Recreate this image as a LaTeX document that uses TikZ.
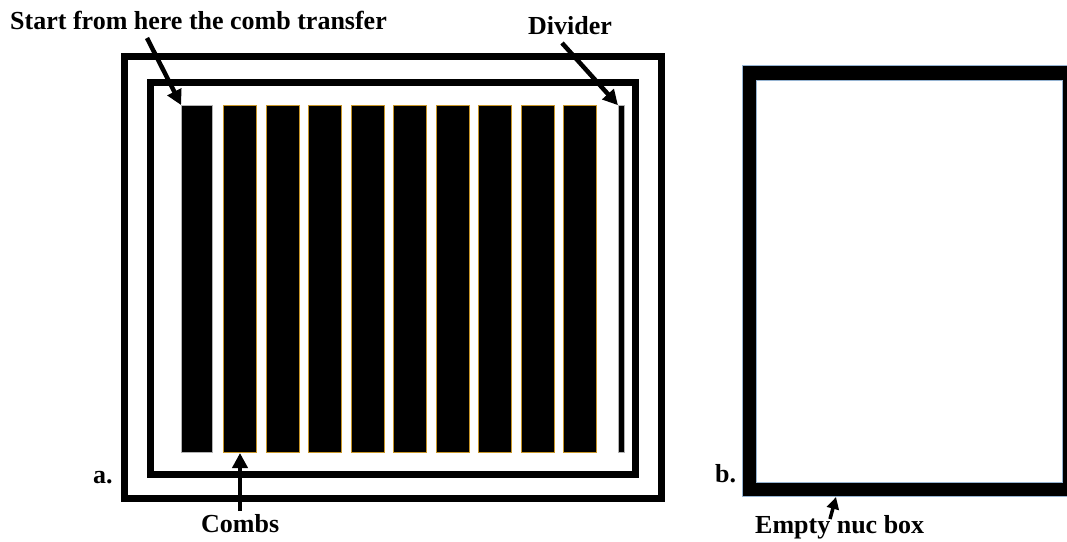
\documentclass[tikz,border=0pt]{standalone}
\usepackage{fontspec}
\setmainfont{Liberation Serif}
\usetikzlibrary{arrows.meta}
\definecolor{combgold}{RGB}{200,150,40}
\definecolor{edgeblue}{RGB}{150,180,210}

\begin{document}
\begin{tikzpicture}[x=1pt,y=-1pt]
	\useasboundingbox[fill=white] (0,0) rectangle (1067,541);

	% the two boxes
	\draw[line width=7pt] (124.5,56.5) rectangle (661.5,498);
	\draw[line width=7pt] (150,82.5) rectangle (635.5,474);
	\draw[line width=14pt] (749,72.5) rectangle (1069,489);
	\draw[edgeblue,line width=0.8pt] (742,65) rectangle (1076,496);
	\draw[edgeblue,line width=0.8pt] (756,80) rectangle (1062,482);

	\begin{scope}[every node/.style={fill=black,inner sep=0pt,minimum height=347pt}]
	    \node[draw=gray!60,line width=0.8pt,minimum width=31pt] (first) at (197,279) {};
	    \node[draw=combgold,line width=1pt,minimum width=33pt] (c1) at (240,279) {};
	    \node[draw=combgold,line width=1pt,minimum width=33pt] (c2) at (282.5,279) {};
	    \node[draw=combgold,line width=1pt,minimum width=33pt] (c3) at (325,279) {};
	    \node[draw=combgold,line width=1pt,minimum width=33pt] (c4) at (367.5,279) {};
	    \node[draw=combgold,line width=1pt,minimum width=33pt] (c5) at (410,279) {};
	    \node[draw=combgold,line width=1pt,minimum width=33pt] (c6) at (452.5,279) {};
	    \node[draw=combgold,line width=1pt,minimum width=33pt] (c7) at (495,279) {};
	    \node[draw=combgold,line width=1pt,minimum width=33pt] (c8) at (537.5,279) {};
	    \node[draw=combgold,line width=1pt,minimum width=33pt] (c9) at (580,279) {};
	    \node[draw=gray!60,line width=0.6pt,minimum width=6.5pt] (div) at (621.5,279) {};
	\end{scope}

	\begin{scope}[every node/.style={font=\fontsize{26}{30}\selectfont\bfseries,
	              inner sep=0pt,anchor=base west}]
	    \node (start) at (10,29) {Start from here the comb transfer};
	    \node (divider) at (528,34) {Divider};
	    \node (combs) at (201,532) {Combs};
	    \node (empty) at (755,533) {Empty nuc box};
	    \node (a) at (93,483) {a.};
	    \node (b) at (715,482) {b.};
	\end{scope}

	\coordinate (startfoot) at (147,38);
	\coordinate (dividerfoot) at (562,43);
	\coordinate (combsfoot) at (240,511);
	\coordinate (emptyfoot) at (830,519);
	\coordinate (boxedge) at (836,497);

	\begin{scope}[line width=4.5pt,-{Triangle[length=15pt,width=15pt]}]
	    \draw (startfoot) -- (first.north west);
	    \draw (dividerfoot) -- (div.north west);
	    \draw (combsfoot) -- (c1.south);
	\end{scope}
	\draw[line width=3.5pt,-{Triangle[length=12pt,width=12pt]}] (emptyfoot) -- (boxedge);
\end{tikzpicture}
\end{document}
